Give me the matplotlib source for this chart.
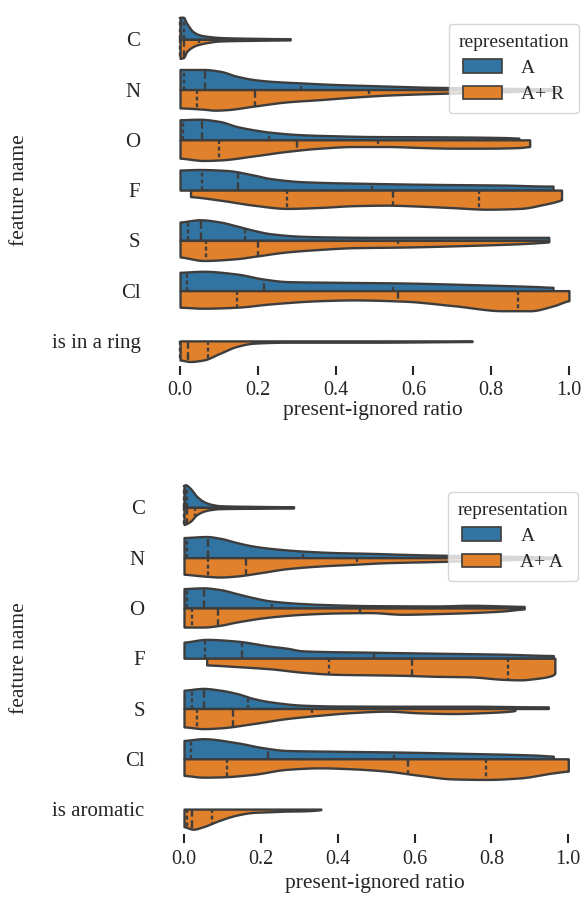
import numpy as np
import matplotlib
matplotlib.use("Agg")
import matplotlib.pyplot as plt
from matplotlib.patches import Patch

plt.rcParams["font.family"] = ["Liberation Serif", "DejaVu Serif"]
plt.rcParams["lines.scale_dashes"] = False

# ---------------- data ----------------
TICKS_X = [0.0, 0.2, 0.4, 0.6, 0.8, 1.0]
TICK_LABELS_X = ["0.0", "0.2", "0.4", "0.6", "0.8", "1.0"]

CATS_TOP = ["C", "N", "O", "F", "S", "Cl", "is in a ring"]
CATS_BOT = ["C", "N", "O", "F", "S", "Cl", "is aromatic"]
HUES_TOP = ["A", "A+ R"]
HUES_BOT = ["A", "A+ A"]

# half-violin profiles: (ratio, half-width in category units)
TOP_A_C = [(0, 0.44), (0.008, 0.44), (0.017, 0.32), (0.034, 0.15), (0.051, 0.086),
           (0.077, 0.053), (0.11, 0.033), (0.19, 0.02), (0.283, 0.012)]
TOP_B_C = [(0, 0.38), (0.009, 0.36), (0.017, 0.245), (0.03, 0.16), (0.043, 0.113),
           (0.069, 0.066), (0.103, 0.033), (0.19, 0.02), (0.283, 0.012)]
TOP_A_N = [(0, 0.4), (0.06, 0.4), (0.103, 0.364), (0.146, 0.265), (0.189, 0.2),
           (0.232, 0.166), (0.318, 0.13), (0.403, 0.1), (0.489, 0.08), (0.575, 0.06),
           (0.644, 0.046), (0.8, 0.03), (0.97, 0.012)]
TOP_B_N = [(0, 0.365), (0.06, 0.39), (0.09, 0.41), (0.12, 0.40), (0.189, 0.33),
           (0.275, 0.245), (0.36, 0.2), (0.446, 0.15), (0.532, 0.11), (0.644, 0.08),
           (0.8, 0.05), (0.97, 0.015)]
TOP_A_O = [(0, 0.4), (0.05, 0.41), (0.103, 0.364), (0.146, 0.265), (0.189, 0.2),
           (0.232, 0.152), (0.317, 0.1), (0.403, 0.08), (0.489, 0.066), (0.66, 0.06),
           (0.832, 0.046), (0.871, 0.035)]
TOP_B_O = [(0, 0.365), (0.06, 0.41), (0.103, 0.4), (0.189, 0.32), (0.275, 0.23),
           (0.36, 0.166), (0.446, 0.133), (0.532, 0.133), (0.618, 0.152), (0.704, 0.166),
           (0.789, 0.166), (0.875, 0.152), (0.899, 0.133)]
TOP_A_F = [(0, 0.4), (0.05, 0.41), (0.12, 0.39), (0.189, 0.3), (0.232, 0.23),
           (0.317, 0.166), (0.489, 0.133), (0.66, 0.113), (0.832, 0.1), (0.952, 0.08),
           (0.959, 0.08)]
TOP_B_F = [(0.027, 0.13), (0.103, 0.2), (0.189, 0.3), (0.275, 0.364), (0.36, 0.345),
           (0.446, 0.31), (0.532, 0.3), (0.618, 0.32), (0.704, 0.35), (0.789, 0.38),
           (0.875, 0.364), (0.935, 0.285), (0.978, 0.2), (0.981, 0.19)]
TOP_A_S = [(0, 0.365), (0.051, 0.41), (0.103, 0.365), (0.146, 0.285), (0.189, 0.2),
           (0.232, 0.133), (0.317, 0.08), (0.403, 0.066), (0.5, 0.06), (0.948, 0.06)]
TOP_B_S = [(0, 0.33), (0.06, 0.4), (0.146, 0.364), (0.189, 0.32), (0.275, 0.23),
           (0.36, 0.18), (0.446, 0.146), (0.575, 0.133), (0.746, 0.1), (0.875, 0.066),
           (0.944, 0.033), (0.948, 0.03)]
TOP_A_CL = [(0, 0.365), (0.06, 0.385), (0.146, 0.33), (0.215, 0.23), (0.275, 0.18),
            (0.403, 0.166), (0.575, 0.152), (0.746, 0.12), (0.918, 0.08), (0.959, 0.066)]
TOP_B_CL = [(0, 0.33), (0.06, 0.35), (0.146, 0.33), (0.232, 0.265), (0.36, 0.2),
            (0.446, 0.185), (0.575, 0.21), (0.704, 0.3), (0.832, 0.4), (0.9, 0.4),
            (0.961, 0.3), (1.0, 0.2)]
TOP_B_RING = [(0, 0.38), (0.026, 0.41), (0.06, 0.38), (0.103, 0.245), (0.146, 0.11),
              (0.189, 0.046), (0.275, 0.026), (0.489, 0.026), (0.751, 0.013)]

BOT_A_C = [(0, 0.44), (0.003, 0.45), (0.016, 0.38), (0.033, 0.22), (0.05, 0.12),
           (0.068, 0.066), (0.094, 0.033), (0.18, 0.02), (0.285, 0.012)]
BOT_B_C = [(0, 0.34), (0.016, 0.28), (0.033, 0.146), (0.05, 0.08), (0.068, 0.046),
           (0.094, 0.026), (0.18, 0.018), (0.285, 0.012)]
BOT_A_N = [(0, 0.4), (0.059, 0.42), (0.094, 0.385), (0.137, 0.3), (0.18, 0.23),
           (0.224, 0.185), (0.31, 0.13), (0.397, 0.1), (0.484, 0.086), (0.57, 0.066),
           (0.64, 0.053), (0.8, 0.035), (0.973, 0.012)]
BOT_B_N = [(0, 0.33), (0.05, 0.365), (0.094, 0.385), (0.137, 0.365), (0.198, 0.3),
           (0.267, 0.22), (0.354, 0.166), (0.44, 0.133), (0.527, 0.1), (0.64, 0.08),
           (0.8, 0.05), (0.973, 0.015)]
BOT_A_O = [(0, 0.385), (0.05, 0.4), (0.094, 0.365), (0.137, 0.285), (0.18, 0.205),
           (0.224, 0.14), (0.31, 0.086), (0.397, 0.06), (0.484, 0.046), (0.657, 0.04),
           (0.744, 0.053), (0.831, 0.04), (0.885, 0.03)]
BOT_B_O = [(0, 0.38), (0.05, 0.38), (0.094, 0.345), (0.137, 0.28), (0.224, 0.18),
           (0.31, 0.126), (0.397, 0.1), (0.484, 0.093), (0.57, 0.126), (0.657, 0.113),
           (0.744, 0.093), (0.831, 0.06), (0.885, 0.02)]
BOT_A_F = [(0, 0.32), (0.059, 0.375), (0.137, 0.34), (0.224, 0.24), (0.267, 0.2),
           (0.31, 0.146), (0.484, 0.12), (0.657, 0.1), (0.831, 0.08), (0.961, 0.053)]
BOT_B_F = [(0.059, 0.133), (0.137, 0.166), (0.224, 0.21), (0.31, 0.28), (0.397, 0.32),
           (0.484, 0.33), (0.57, 0.34), (0.657, 0.36), (0.744, 0.37), (0.831, 0.42),
           (0.874, 0.43), (0.918, 0.4), (0.961, 0.33), (0.965, 0.3)]
BOT_A_S = [(0, 0.365), (0.05, 0.4), (0.094, 0.365), (0.137, 0.3), (0.18, 0.2),
           (0.224, 0.133), (0.31, 0.066), (0.397, 0.05), (0.57, 0.046), (0.744, 0.046),
           (0.944, 0.033), (0.948, 0.033)]
BOT_B_S = [(0, 0.365), (0.05, 0.4), (0.094, 0.385), (0.18, 0.3), (0.267, 0.2),
           (0.354, 0.133), (0.44, 0.08), (0.527, 0.053), (0.614, 0.086), (0.7, 0.1),
           (0.788, 0.08), (0.857, 0.046), (0.861, 0.04)]
BOT_A_CL = [(0, 0.365), (0.05, 0.4), (0.137, 0.32), (0.206, 0.22), (0.267, 0.166),
            (0.397, 0.15), (0.57, 0.133), (0.744, 0.106), (0.918, 0.073), (0.961, 0.053)]
BOT_B_CL = [(0, 0.33), (0.05, 0.365), (0.094, 0.36), (0.18, 0.31), (0.267, 0.21),
            (0.354, 0.18), (0.44, 0.2), (0.527, 0.245), (0.614, 0.33), (0.7, 0.4),
            (0.788, 0.41), (0.874, 0.38), (0.961, 0.28), (1.0, 0.245)]
BOT_B_AROM = [(0, 0.35), (0.024, 0.4), (0.05, 0.35), (0.094, 0.22), (0.137, 0.12),
              (0.18, 0.066), (0.224, 0.053), (0.267, 0.04), (0.31, 0.035), (0.354, 0.013),
              (0.356, 0.01)]

TOP_A = [TOP_A_C, TOP_A_N, TOP_A_O, TOP_A_F, TOP_A_S, TOP_A_CL, None]
TOP_B = [TOP_B_C, TOP_B_N, TOP_B_O, TOP_B_F, TOP_B_S, TOP_B_CL, TOP_B_RING]
BOT_A = [BOT_A_C, BOT_A_N, BOT_A_O, BOT_A_F, BOT_A_S, BOT_A_CL, None]
BOT_B = [BOT_B_C, BOT_B_N, BOT_B_O, BOT_B_F, BOT_B_S, BOT_B_CL, BOT_B_AROM]

# quartiles (q25, median, q75)
TOP_A_Q = [[0.0, 0.003, 0.009], [0.009, 0.064, 0.31], [0.007, 0.056, 0.23],
           [0.056, 0.15, 0.493], [0.021, 0.053, 0.167], [0.019, 0.217, 0.547], None]
TOP_B_Q = [[0.0, 0.009, 0.05], [0.043, 0.193, 0.485], [0.099, 0.3, 0.51],
           [0.275, 0.547, 0.77], [0.067, 0.2, 0.56], [0.146, 0.56, 0.868],
           [0.0, 0.021, 0.073]]
BOT_A_Q = [[0.0, 0.002, 0.007], [0.009, 0.063, 0.31], [0.007, 0.053, 0.23],
           [0.055, 0.15, 0.494], [0.022, 0.053, 0.167], [0.017, 0.218, 0.546], None]
BOT_B_Q = [[0.0, 0.007, 0.029], [0.062, 0.161, 0.451], [0.02, 0.088, 0.458],
           [0.377, 0.592, 0.844], [0.033, 0.128, 0.334], [0.113, 0.584, 0.785],
           [0.007, 0.02, 0.074]]

# ---------------- style ----------------
BLUE = "#3274a1"
ORANGE = "#e1812c"
EDGE = "#3d3d3d"
TXT = "#262626"
LW = 1.7


def pchip(x, y, xn):
    x = np.asarray(x, float)
    y = np.asarray(y, float)
    n = len(x)
    h = np.diff(x)
    d = np.diff(y) / h
    m = np.zeros(n)
    if n == 2:
        m[:] = d[0]
    else:
        for k in range(1, n - 1):
            if d[k - 1] * d[k] > 0:
                w1 = 2 * h[k] + h[k - 1]
                w2 = h[k] + 2 * h[k - 1]
                m[k] = (w1 + w2) / (w1 / d[k - 1] + w2 / d[k])
        m[0] = d[0] * 0.5
        m[-1] = d[-1] * 0.5
    idx = np.clip(np.searchsorted(x, xn) - 1, 0, n - 2)
    t = (xn - x[idx]) / h[idx]
    h00 = 2 * t**3 - 3 * t**2 + 1
    h10 = t**3 - 2 * t**2 + t
    h01 = -2 * t**3 + 3 * t**2
    h11 = t**3 - t**2
    out = h00 * y[idx] + h10 * h[idx] * m[idx] + h01 * y[idx + 1] + h11 * h[idx] * m[idx + 1]
    return np.clip(out, 0, None)


def draw_half(ax, center, prof, quart, color, sign):
    px = [p[0] for p in prof]
    pw = [p[1] for p in prof]
    xs = np.linspace(px[0], px[-1], 400)
    ws = pchip(px, pw, xs)
    ax.fill_between(xs, center, center + sign * ws, facecolor=color,
                    edgecolor=EDGE, linewidth=LW, zorder=2)
    if quart is None:
        return
    for i, q in enumerate(quart):
        wq = float(pchip(px, pw, np.array([q]))[0])
        ls = (0, (5.5, 2.6)) if i == 1 else (0, (2.8, 2.0))
        ax.plot([q, q], [center, center + sign * wq], color=EDGE, lw=LW,
                linestyle=ls, solid_capstyle="butt", dash_capstyle="butt", zorder=3)


def panel(ax, cats, hues, A, B, AQ, BQ):
    for i in range(len(cats)):
        if A[i] is not None:
            draw_half(ax, i, A[i], AQ[i], BLUE, -1)
        if B[i] is not None:
            draw_half(ax, i, B[i], BQ[i], ORANGE, +1)
    ax.set_xlim(-0.05, 1.05)
    ax.set_ylim(len(cats) - 0.5, -0.5)
    ax.set_yticks(range(len(cats)))
    ax.set_yticklabels(cats)
    ax.set_xticks(TICKS_X)
    ax.set_xticklabels(TICK_LABELS_X)
    for s in ax.spines.values():
        s.set_visible(False)
    ax.tick_params(axis="x", length=6.5, width=1.5, color=TXT, pad=4.5,
                   labelsize=14.5, labelcolor=TXT)
    ax.tick_params(axis="y", length=0, pad=14.5, labelsize=15, labelcolor=TXT)
    ax.set_xlabel("present-ignored ratio", fontsize=15.5, color=TXT)
    ax.set_ylabel("feature name", fontsize=15.5, color=TXT)
    handles = [Patch(facecolor=BLUE, edgecolor=EDGE, linewidth=1.2, label=hues[0]),
               Patch(facecolor=ORANGE, edgecolor=EDGE, linewidth=1.2, label=hues[1])]
    leg = ax.legend(handles=handles, title="representation", loc="upper right",
                    fontsize=14, title_fontsize=14, frameon=True, fancybox=True,
                    framealpha=0.8, edgecolor="#cccccc", borderaxespad=0.5,
                    borderpad=0.5, handletextpad=1.0, labelspacing=0.45)
    leg.get_title().set_color(TXT)
    for t in leg.get_texts():
        t.set_color(TXT)


fig = plt.figure(figsize=(5.84, 8.98), dpi=100)
ax1 = fig.add_axes([0.2750, 0.5924, 0.7325, 0.3918])
ax2 = fig.add_axes([0.2822, 0.0710, 0.7238, 0.3920])

panel(ax1, CATS_TOP, HUES_TOP, TOP_A, TOP_B, TOP_A_Q, TOP_B_Q)
panel(ax2, CATS_BOT, HUES_BOT, BOT_A, BOT_B, BOT_A_Q, BOT_B_Q)

ax1.yaxis.set_label_coords(-0.3076, 0.5)
ax2.yaxis.set_label_coords(-0.3213, 0.5)
ax1.xaxis.set_label_coords(0.4965, -(401.5 - 366.2) / 352.0)
ax2.xaxis.set_label_coords(0.4965, -(873.5 - 834.2) / 352.0)

fig.savefig("out.png", dpi=100)
